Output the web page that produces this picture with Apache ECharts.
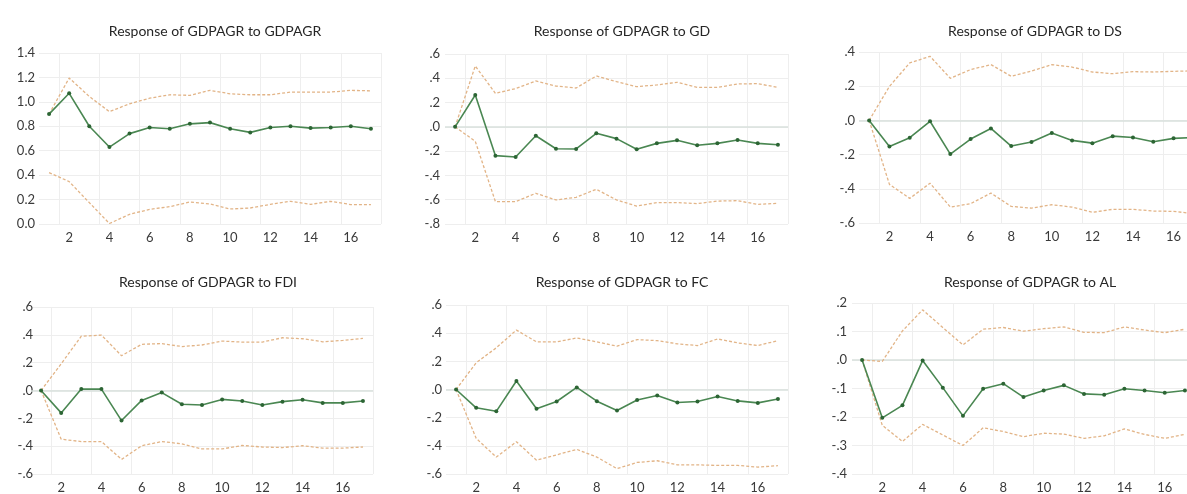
<!DOCTYPE html>
<html lang="en">
<head>
    <meta charset="UTF-8">
    <title>Impulse responses of GDPAGR</title>
    <script src="https://cdn.jsdelivr.net/npm/echarts@6/dist/echarts.min.js"></script>
    <style>
        html, body { margin: 0; padding: 0; background: #fff; overflow: hidden; }
        /* a bit wider than the window: the right panel is cut off at the edge */
        #chart { width: 1215px; height: 494px; }
    </style>
</head>
<body>
    <div id="chart"></div>

    <script>
        // periods 1..17
        const periods = ['1','2','3','4','5','6','7','8','9','10','11','12','13','14','15','16','17'];

        const titles = [
            'Response of GDPAGR to GDPAGR',
            'Response of GDPAGR to GD',
            'Response of GDPAGR to DS',
            'Response of GDPAGR to FDI',
            'Response of GDPAGR to FC',
            'Response of GDPAGR to AL'
        ];

        // response (green) values
        const respGDPAGR = [0.90, 1.07, 0.80, 0.63, 0.74, 0.79, 0.78, 0.82, 0.83, 0.78, 0.75, 0.79, 0.80, 0.785, 0.79, 0.80, 0.78];
        const respGD     = [0, 0.262, -0.237, -0.248, -0.073, -0.18, -0.182, -0.053, -0.097, -0.185, -0.136, -0.111, -0.152, -0.136, -0.108, -0.136, -0.147];
        const respDS     = [0, -0.152, -0.101, -0.005, -0.197, -0.109, -0.047, -0.15, -0.126, -0.074, -0.117, -0.133, -0.092, -0.10, -0.125, -0.105, -0.10];
        const respFDI    = [0, -0.161, 0.01, 0.01, -0.216, -0.071, -0.015, -0.099, -0.104, -0.064, -0.075, -0.104, -0.08, -0.066, -0.089, -0.089, -0.075];
        const respFC     = [0, -0.13, -0.155, 0.06, -0.137, -0.085, 0.015, -0.083, -0.149, -0.074, -0.043, -0.092, -0.085, -0.05, -0.081, -0.095, -0.067];
        const respAL     = [0, -0.203, -0.159, -0.002, -0.097, -0.196, -0.101, -0.083, -0.13, -0.107, -0.089, -0.119, -0.122, -0.101, -0.107, -0.115, -0.107];

        // upper confidence bands
        const upGDPAGR = [0.90, 1.195, 1.044, 0.92, 0.984, 1.03, 1.058, 1.053, 1.094, 1.066, 1.058, 1.058, 1.08, 1.08, 1.08, 1.094, 1.09];
        const upGD     = [0, 0.501, 0.276, 0.315, 0.378, 0.336, 0.32, 0.419, 0.372, 0.331, 0.345, 0.367, 0.325, 0.325, 0.353, 0.356, 0.325];
        const upDS     = [0, 0.199, 0.336, 0.375, 0.246, 0.297, 0.326, 0.258, 0.289, 0.326, 0.312, 0.283, 0.273, 0.285, 0.283, 0.287, 0.29];
        const upFDI    = [0, 0.192, 0.39, 0.398, 0.25, 0.332, 0.337, 0.316, 0.327, 0.355, 0.348, 0.348, 0.379, 0.372, 0.35, 0.36, 0.374];
        const upFC     = [0, 0.19, 0.296, 0.422, 0.338, 0.338, 0.366, 0.338, 0.308, 0.354, 0.347, 0.324, 0.312, 0.359, 0.331, 0.312, 0.347];
        const upAL     = [0, -0.005, 0.102, 0.176, 0.114, 0.053, 0.108, 0.114, 0.101, 0.11, 0.116, 0.097, 0.096, 0.116, 0.105, 0.096, 0.108];

        // lower confidence bands
        const loGDPAGR = [0.421, 0.347, 0.175, 0.004, 0.079, 0.12, 0.142, 0.18, 0.164, 0.123, 0.131, 0.161, 0.186, 0.161, 0.186, 0.159, 0.159];
        const loGD     = [0, -0.119, -0.616, -0.616, -0.547, -0.602, -0.58, -0.514, -0.602, -0.652, -0.624, -0.624, -0.632, -0.611, -0.608, -0.638, -0.63];
        const loDS     = [0, -0.374, -0.456, -0.367, -0.507, -0.487, -0.425, -0.503, -0.513, -0.493, -0.507, -0.538, -0.52, -0.52, -0.53, -0.532, -0.545];
        const loFDI    = [0, -0.35, -0.367, -0.367, -0.495, -0.397, -0.367, -0.383, -0.42, -0.42, -0.395, -0.406, -0.41, -0.397, -0.414, -0.414, -0.406];
        const loFC     = [0, -0.347, -0.48, -0.371, -0.502, -0.464, -0.425, -0.48, -0.562, -0.518, -0.506, -0.535, -0.535, -0.539, -0.539, -0.551, -0.541];
        const loAL     = [0, -0.229, -0.286, -0.226, -0.263, -0.3, -0.238, -0.251, -0.269, -0.257, -0.26, -0.275, -0.266, -0.242, -0.261, -0.275, -0.261];

        // y axis ranges: [min, max, interval]
        const yRanges = [
            [0, 1.4, 0.2],
            [-0.8, 0.6, 0.2],
            [-0.6, 0.4, 0.2],
            [-0.6, 0.6, 0.2],
            [-0.6, 0.6, 0.2],
            [-0.4, 0.2, 0.1]
        ];

        const responses = [respGDPAGR, respGD, respDS, respFDI, respFC, respAL];
        const uppers = [upGDPAGR, upGD, upDS, upFDI, upFC, upAL];
        const lowers = [loGDPAGR, loGD, loDS, loFDI, loFC, loAL];

        // layout of each panel (px)
        const boxes = [
            { left: 39,  top: 53,  width: 342, height: 171, titleX: 210,  titleY: 19,  yMargin: 4 },
            { left: 445, top: 54,  width: 343, height: 170, titleX: 617,  titleY: 19,  yMargin: 5 },
            { left: 859, top: 52,  width: 345, height: 171, titleX: 1030, titleY: 19,  yMargin: 4 },
            { left: 31,  top: 307, width: 342, height: 171, titleX: 203,  titleY: 270, yMargin: -2 },
            { left: 446, top: 305, width: 342, height: 171, titleX: 617,  titleY: 270, yMargin: 4 },
            { left: 852, top: 303, width: 343, height: 173, titleX: 1025, titleY: 270, yMargin: 5 }
        ];

        const FONT = 'Lato, "Open Sans", sans-serif';
        const GREEN = '#4a8752';
        const DOT = '#2c6534';
        const BAND = '#e2b487';

        function yFmt(first) {
            return function (v) {
                let s = (Math.round(v * 10) / 10).toFixed(1);
                if (first) return s;
                if (s === '-0.0') s = '0.0';
                return s.replace('0.', '.');
            };
        }

        const title = [], grid = [], xAxis = [], yAxis = [], series = [];

        boxes.forEach(function (b, i) {
            title.push({
                text: titles[i],
                left: b.titleX,
                top: b.titleY,
                textAlign: 'center',
                textStyle: { fontFamily: FONT, fontSize: 14, fontWeight: 'normal', color: '#262626' }
            });
            grid.push({ left: b.left, top: b.top, width: b.width, height: b.height, containLabel: false });
            xAxis.push({
                type: 'category',
                gridIndex: i,
                data: periods,
                boundaryGap: true,
                axisLine: { show: false },
                axisTick: { show: false },
                axisLabel: {
                    interval: function (idx) { return idx % 2 === 1; },
                    margin: 7,
                    fontFamily: FONT, fontSize: 13, color: '#3a3a3a'
                },
                splitLine: {
                    show: true,
                    interval: function (idx) { return idx % 2 === 1 && idx < 16; },
                    lineStyle: { color: '#eeeeee', width: 1 }
                }
            });
            const r = yRanges[i];
            yAxis.push({
                type: 'value',
                gridIndex: i,
                min: r[0], max: r[1], interval: r[2],
                axisLine: { show: false },
                axisTick: { show: false },
                axisLabel: {
                    formatter: yFmt(i === 0),
                    margin: b.yMargin,
                    fontFamily: FONT, fontSize: 13, color: '#3a3a3a'
                },
                splitLine: { lineStyle: { color: '#eeeeee', width: 1 } }
            });

            const bandStyle = { color: BAND, width: 1.3, type: [3, 2] };
            series.push({
                type: 'line', xAxisIndex: i, yAxisIndex: i,
                data: uppers[i], showSymbol: false, symbol: 'none',
                lineStyle: bandStyle, silent: true, z: 2
            });
            series.push({
                type: 'line', xAxisIndex: i, yAxisIndex: i,
                data: lowers[i], showSymbol: false, symbol: 'none',
                lineStyle: bandStyle, silent: true, z: 2
            });
            const resp = {
                type: 'line', xAxisIndex: i, yAxisIndex: i,
                data: responses[i],
                symbol: 'circle', symbolSize: 4, showSymbol: true,
                itemStyle: { color: DOT },
                lineStyle: { color: GREEN, width: 1.6 },
                silent: true, z: 3
            };
            if (i > 0) {
                resp.markLine = {
                    silent: true,
                    symbol: 'none',
                    label: { show: false },
                    lineStyle: { color: '#d8e0dc', width: 1.6, type: 'solid' },
                    data: [{ yAxis: 0 }],
                    z: 1
                };
            }
            series.push(resp);
        });

        const chart = echarts.init(document.getElementById('chart'));
        chart.setOption({
            animation: false,
            backgroundColor: '#ffffff',
            title: title,
            grid: grid,
            xAxis: xAxis,
            yAxis: yAxis,
            series: series
        });
    </script>
</body>
</html>
